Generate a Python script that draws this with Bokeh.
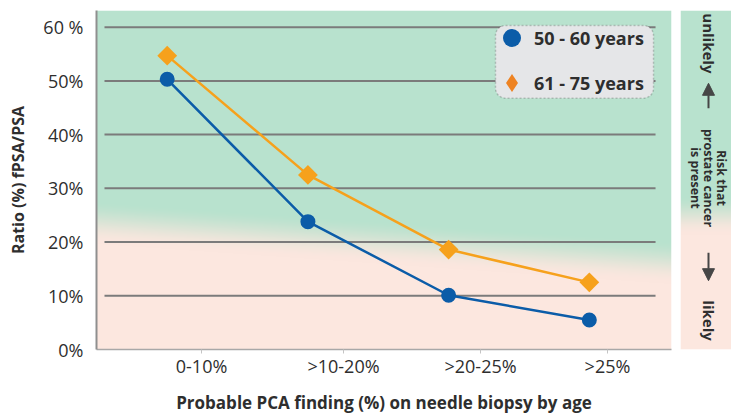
import numpy as np
from bokeh.plotting import figure
from bokeh.layouts import row
from bokeh.models import (Range1d, FixedTicker, CustomJSTickFormatter, Legend, LegendItem,
                          BoxAnnotation, Label, Arrow, NormalHead, ColumnDataSource)
from bokeh.embed import file_html
from bokeh.resources import INLINE

# ---------------- data ----------------
categories = ["0-10%", ">10-20%", ">20-25%", ">25%"]
age_50_60 = [50.3, 23.8, 10.1, 5.5]
age_61_75 = [54.7, 32.5, 18.6, 12.5]
series_labels = ["50 - 60 years", "61 - 75 years"]
y_ticks = [0, 10, 20, 30, 40, 50, 60]
y_tick_labels = ["0%", "10%", "20%", "30%", "40%", "50%", "60 %"]
x_label_pos = [0.244, 1.253, 2.227, 3.129]
x_title = "Probable PCA finding (%) on needle biopsy by age"
y_title = "Ratio (%) fPSA/PSA"
panel_top = "unlikely"
panel_mid = ["Risk that", "prostate cancer", "is present"]
panel_bottom = "likely"

# ---------------- style ----------------
FONT = "Open Sans"
DARK = "#2e2e2e"
BLUE = "#0b5ca8"
ORANGE = "#f6a11c"
LEG_ORANGE = "#ee8322"
GREEN = np.array([184, 226, 206], dtype=float)
PINK = np.array([252, 231, 223], dtype=float)

X0, X1 = -0.5025, 3.584
Y0, Y1 = 0.0, 63.1
PXU = 140.7     # px per x unit
PYU = 5.388     # px per y unit


def gradient(H, W, centre_fn, width):
    py = 350 - (np.arange(H) + 0.5) * 340 / H
    px = np.arange(W) + 0.5
    PY, PX = np.meshgrid(py, px, indexing="ij")
    yc = centre_fn(PX)
    t = np.clip((PY - (yc - width / 2)) / width, 0, 1)
    t = t * t * (3 - 2 * t)
    rgb = GREEN[None, None, :] * (1 - t[..., None]) + PINK[None, None, :] * t[..., None]
    img = np.empty((H, W), dtype=np.uint32)
    view = img.view(dtype=np.uint8).reshape((H, W, 4))
    view[..., 0] = rgb[..., 0].astype(np.uint8)
    view[..., 1] = rgb[..., 1].astype(np.uint8)
    view[..., 2] = rgb[..., 2].astype(np.uint8)
    view[..., 3] = 255
    return img


# ---------------- main figure ----------------
p = figure(width=680, height=416, x_range=Range1d(X0, X1), y_range=Range1d(Y0, Y1),
           output_backend="svg", toolbar_location=None,
           min_border_left=96, min_border_right=9, min_border_top=10, min_border_bottom=66)
p.outline_line_color = None
p.grid.visible = False
p.border_fill_color = "white"

bg = gradient(340, 575, lambda x: 222 + x * 40 / 575, 44)
p.image_rgba(image=[bg], x=X0, y=Y0, dw=X1 - X0, dh=Y1 - Y0)

GX0 = (104 - 166.7) / PXU
GX1 = (655 - 166.7) / PXU
p.segment(x0=GX0, y0=y_ticks[1:], x1=GX1, y1=y_ticks[1:], line_color="#7b7b7b", line_width=2)

src = ColumnDataSource(dict(x=list(range(len(categories))), a=age_50_60, b=age_61_75))
p.line("x", "b", source=src, line_color=ORANGE, line_width=2.5)
p.line("x", "a", source=src, line_color=BLUE, line_width=2.5)
# small diamonds (hidden beneath the rotated squares) give the legend its diamond glyph
r_b_leg = p.scatter("x", "b", source=src, marker="diamond", size=6,
                    fill_color=LEG_ORANGE, line_color=None)
p.scatter("x", "b", source=src, marker="square", size=14, angle=np.pi / 4,
          fill_color=ORANGE, line_color=None)
r_a = p.scatter("x", "a", source=src, marker="circle", size=15, fill_color=BLUE, line_color=None)

# legend
box = BoxAnnotation(left=(495 - 166.7) / PXU, right=(653 - 166.7) / PXU,
                    top=(350 - 25) / PYU, bottom=(350 - 98) / PYU,
                    fill_color="#e5e6e8", fill_alpha=1, line_color="#555555",
                    line_dash="2 2", line_width=1.5, border_radius=10)
p.add_layout(box)

legend = Legend(items=[LegendItem(label=series_labels[0], renderers=[r_a]),
                       LegendItem(label=series_labels[1], renderers=[r_b_leg])],
                location=(393, 244), padding=0, margin=0, spacing=0,
                glyph_width=45, glyph_height=45, label_standoff=0,
                background_fill_alpha=0, border_line_alpha=0,
                label_text_font=FONT, label_text_font_size="18px",
                label_text_font_style="bold", label_text_color=DARK)
p.add_layout(legend)

# y axis
p.yaxis.ticker = FixedTicker(ticks=y_ticks)
p.yaxis.major_label_overrides = dict(zip(y_ticks, y_tick_labels))
p.yaxis.major_tick_in = 0
p.yaxis.major_tick_out = 0
p.yaxis.minor_tick_line_color = None
p.yaxis.axis_line_color = "#8f8f8f"
p.yaxis.axis_line_width = 2
p.yaxis.major_label_standoff = 13
p.yaxis.major_label_text_font = FONT
p.yaxis.major_label_text_font_size = "18px"
p.yaxis.major_label_text_color = DARK
p.yaxis.axis_label = y_title
p.yaxis.axis_label_text_font = FONT
p.yaxis.axis_label_text_font_size = "16px"
p.yaxis.axis_label_text_font_style = "bold"
p.yaxis.axis_label_text_color = DARK
p.yaxis.axis_label_standoff = 11

# x axis
p.xaxis.ticker = FixedTicker(ticks=x_label_pos)
p.xaxis.formatter = CustomJSTickFormatter(args=dict(labels=categories, pos=x_label_pos), code="""
let best = 0;
for (let k = 1; k < pos.length; k++) {
  if (Math.abs(pos[k] - tick) < Math.abs(pos[best] - tick)) best = k;
}
return labels[best];
""")
p.xaxis.major_tick_in = 0
p.xaxis.major_tick_out = 4
p.xaxis.major_tick_line_color = "#c4c4c4"
p.xaxis.minor_tick_line_color = None
p.xaxis.axis_line_color = "#a8a8a8"
p.xaxis.axis_line_width = 1.5
p.xaxis.major_label_standoff = 0
p.xaxis.major_label_text_font = FONT
p.xaxis.major_label_text_font_size = "18px"
p.xaxis.major_label_text_color = DARK
p.xaxis.axis_label = x_title
p.xaxis.axis_label_text_font = FONT
p.xaxis.axis_label_text_font_size = "17px"
p.xaxis.axis_label_text_font_style = "bold"
p.xaxis.axis_label_text_color = DARK
p.xaxis.axis_label_standoff = 10

# ---------------- right panel ----------------
p2 = figure(width=51, height=416, x_range=Range1d(680, 731), y_range=Range1d(-350, -10),
            x_axis_type=None, y_axis_type=None, output_backend="svg", toolbar_location=None,
            min_border_left=0, min_border_right=0, min_border_top=10, min_border_bottom=66)
p2.outline_line_color = None
p2.border_fill_color = "white"
pbg = gradient(340, 4, lambda x: 215 + 0 * x, 40)
p2.image_rgba(image=[pbg], x=680, y=-350, dw=51, dh=340)


def vlabel(x, y, text, size):
    return Label(x=x, y=-y, text=text, angle=-np.pi / 2, text_align="center",
                 text_baseline="middle", text_font=FONT, text_font_size=size,
                 text_font_style="bold", text_color=DARK)


p2.add_layout(vlabel(708, 43, panel_top, "15px"))
for xx, t in zip([721, 708, 695], panel_mid):
    p2.add_layout(vlabel(xx, 178, t, "12.5px"))
p2.add_layout(vlabel(708, 321, panel_bottom, "15px"))

AC = "#464646"
p2.add_layout(Arrow(x_start=708, y_start=-108, x_end=708, y_end=-83, line_color=AC, line_width=2,
                    end=NormalHead(size=12, fill_color=AC, line_color=AC)))
p2.add_layout(Arrow(x_start=708, y_start=-253, x_end=708, y_end=-281, line_color=AC, line_width=2,
                    end=NormalHead(size=12, fill_color=AC, line_color=AC)))

layout = row(p, p2)
open("out.html", "w").write(file_html(layout, INLINE))
